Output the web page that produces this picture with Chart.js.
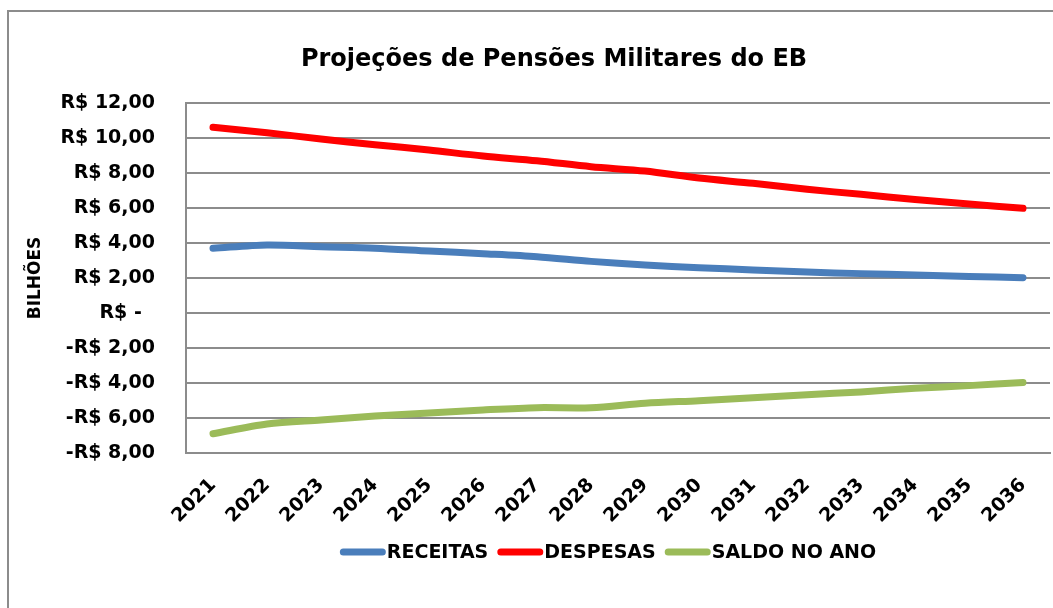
<!DOCTYPE html>
<html><head><meta charset="utf-8">
<script src="https://cdn.jsdelivr.net/npm/chart.js@4/dist/chart.umd.min.js"></script>
<style>html,body{margin:0;padding:0;background:#fff;overflow:hidden}#wrap{width:1053px;height:608px;position:relative}</style>
</head><body><div id="wrap"><canvas id="c" width="1053" height="608"></canvas></div>
<script>
const chartTitle = 'Projeções de Pensões Militares do EB';
const yAxisTitle = 'BILHÕES';
const years = ['2021','2022','2023','2024','2025','2026','2027','2028','2029','2030','2031','2032','2033','2034','2035','2036'];
const receitas = [3.70,3.89,3.79,3.70,3.54,3.39,3.22,2.95,2.74,2.59,2.46,2.34,2.25,2.17,2.09,2.02];
const despesas = [10.61,10.30,9.94,9.62,9.31,8.97,8.70,8.36,8.11,7.71,7.41,7.07,6.78,6.49,6.23,5.98];
const saldo = [-6.90,-6.34,-6.11,-5.89,-5.71,-5.54,-5.41,-5.41,-5.16,-5.01,-4.84,-4.67,-4.51,-4.30,-4.15,-3.97];
const seriesNames = ['RECEITAS','DESPESAS','SALDO NO ANO'];
const seriesColors = ['#4a7ebb','#ff0000','#9bbb59'];
const yMin = -8, yMax = 12, yStep = 2;

const FONT = 'DejaVu Sans';

function fmt(v){
  if (v === 0) return 'R$ -  ';
  const s = Math.abs(v).toFixed(2).replace('.', ',');
  return (v < 0 ? '-R$ ' : 'R$ ') + s;
}

const decor = {
  id: 'decor',
  beforeDraw(chart){
    const ctx = chart.ctx;
    ctx.save();
    ctx.strokeStyle = '#8c8c8c';
    ctx.lineWidth = 2;
    ctx.beginPath();
    ctx.moveTo(8, 700); ctx.lineTo(8, 11); ctx.lineTo(1100, 11);
    ctx.stroke();
    ctx.restore();
  },
  afterDraw(chart){
    const ctx = chart.ctx;
    ctx.save();
    ctx.fillStyle = '#000';
    ctx.font = 'bold 24px "' + FONT + '"';
    ctx.textAlign = 'center';
    ctx.textBaseline = 'alphabetic';
    ctx.fillText(chartTitle, 554, 66);
    ctx.font = 'bold 19px "' + FONT + '"';
    const lineW = 46, gapT = 1, gapI = 9;
    let total = 0;
    const widths = seriesNames.map(n => ctx.measureText(n).width);
    widths.forEach((w,i) => { total += lineW + gapT + w + (i < widths.length-1 ? gapI : 0); });
    let x = 608 - total/2;
    const y = 552;
    ctx.textAlign = 'left';
    ctx.textBaseline = 'middle';
    seriesNames.forEach((n,i) => {
      ctx.strokeStyle = seriesColors[i];
      ctx.lineWidth = 7;
      ctx.lineCap = 'round';
      ctx.beginPath();
      ctx.moveTo(x + 3.5, y); ctx.lineTo(x + lineW - 3.5, y);
      ctx.stroke();
      ctx.fillStyle = '#000';
      ctx.fillText(n, x + lineW + gapT, y + 1);
      x += lineW + gapT + widths[i] + gapI;
    });
    ctx.restore();
  }
};

const mk = (i, data) => ({
  label: seriesNames[i], data, borderColor: seriesColors[i], backgroundColor: seriesColors[i],
  borderWidth: 7, pointRadius: 0, tension: 0.3, borderCapStyle: 'round', borderJoinStyle: 'round', fill: false
});

new Chart(document.getElementById('c'), {
  type: 'line',
  data: { labels: years, datasets: [mk(0, receitas), mk(1, despesas), mk(2, saldo)] },
  options: {
    responsive: false, animation: false, devicePixelRatio: 1,
    layout: { padding: { top: 103, left: 0, right: 3, bottom: 0 } },
    plugins: { legend: { display: false }, title: { display: false }, tooltip: { enabled: false } },
    scales: {
      x: {
        offset: true,
        grid: { display: false, drawTicks: false },
        border: { display: true, color: '#8c8c8c', width: 2 },
        ticks: { minRotation: 45, maxRotation: 45, padding: 21, color: '#000', font: { family: FONT, weight: 'bold', size: 19 } },
        afterFit(s){ s.height = 155; s.paddingLeft = 0; s.paddingRight = 0; }
      },
      y: {
        min: yMin, max: yMax,
        grid: { color: '#8c8c8c', lineWidth: 2, drawTicks: false },
        border: { display: true, color: '#8c8c8c', width: 2 },
        ticks: { stepSize: yStep, padding: 31, color: '#000', font: { family: FONT, weight: 'bold', size: 19 }, callback: v => fmt(v) },
        title: { display: true, text: yAxisTitle, color: '#000', padding: { top: 25, bottom: 0 }, font: { family: FONT, weight: 'bold', size: 17 } },
        afterFit(s){ s.width = 186; s.paddingTop = 0; s.paddingBottom = 0; }
      }
    }
  },
  plugins: [decor]
});
</script></body></html>
